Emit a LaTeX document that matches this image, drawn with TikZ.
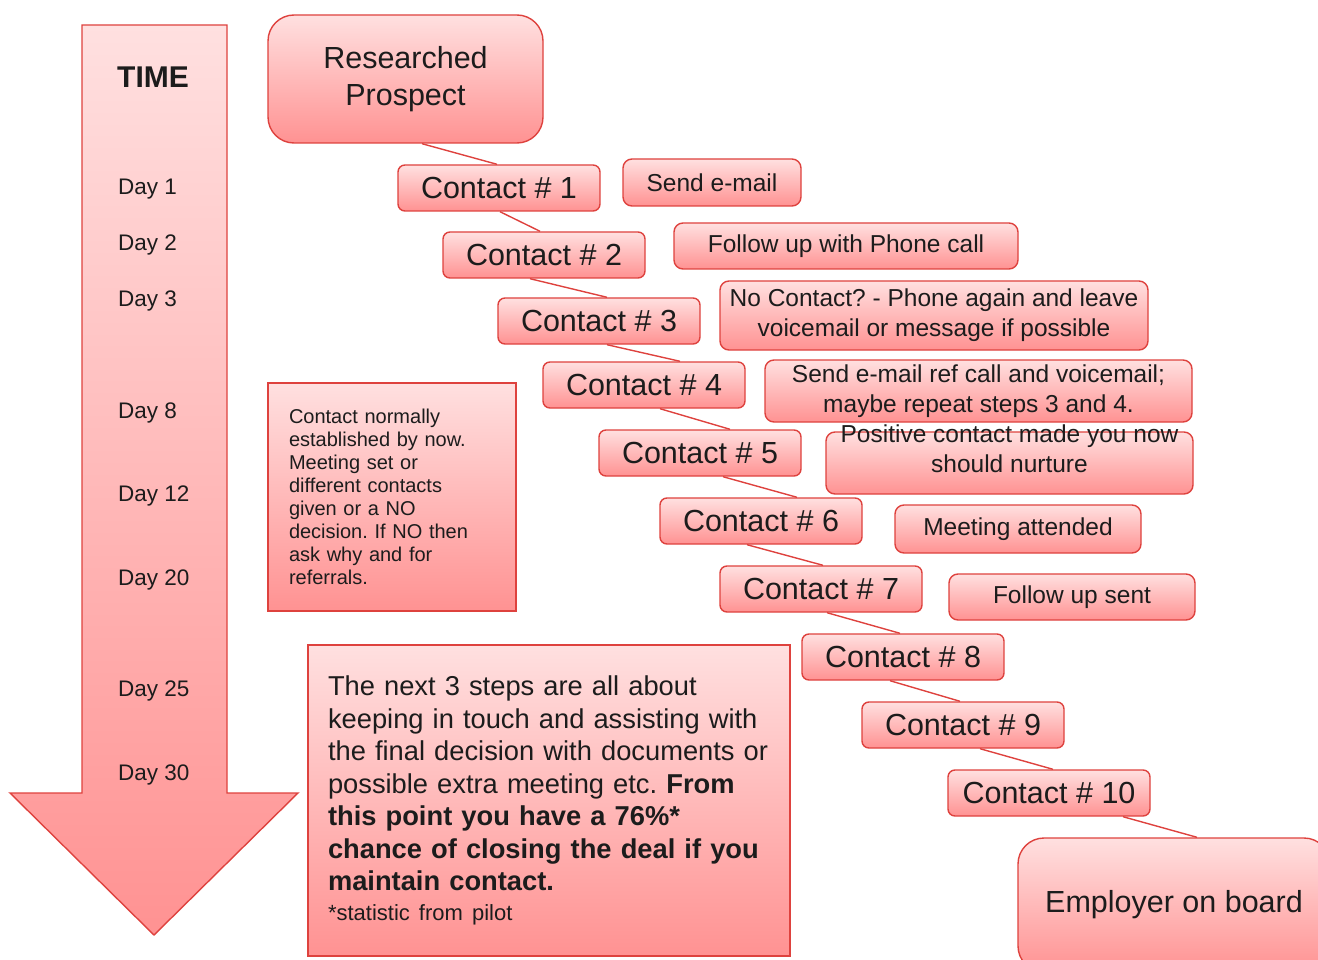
\documentclass[tikz,border=0pt]{standalone}
\usepackage{fontspec}
\setmainfont{Liberation Sans}
\usetikzlibrary{calc}
\frenchspacing

\definecolor{boxtop}{RGB}{255,224,224}
\definecolor{boxbottom}{RGB}{255,146,146}
\definecolor{boxline}{RGB}{222,66,62}
\definecolor{inktext}{RGB}{28,28,28}

\tikzset{
    pinkfill/.style={draw=boxline, line width=1.4pt, top color=boxtop, bottom color=boxbottom},
    pinkbox/.style={pinkfill, text=inktext, inner sep=0pt, align=center},
    contact/.style={pinkbox, rounded corners=7pt, minimum width=202pt, minimum height=46pt, font=\fontsize{30.5}{37}\selectfont},
    stepnote/.style={pinkbox, rounded corners=9pt, font=\fontsize{24.5}{30}\selectfont},
    bigend/.style={pinkbox, rounded corners=26pt, font=\fontsize{30.5}{37}\selectfont},
    link/.style={draw=boxline, line width=1.4pt},
    daylabel/.style={anchor=west, inner sep=0pt, text=inktext, font=\fontsize{22.5}{27}\selectfont}
}

\begin{document}
\begin{tikzpicture}[x=1pt, y=-1pt]
        \useasboundingbox (0,0) rectangle (1318,960);
        \clip (0,0) rectangle (1318,960);

        % Flecha del tiempo
        \draw[pinkfill] (82,25) -- (227,25) -- (227,793) -- (298,793) -- (154,935)
            -- (10,793) -- (82,793) -- cycle;
        \node[text=inktext, font=\bfseries\fontsize{30}{32}\selectfont] (timelabel) at (153,77) {TIME};
        \foreach \d/\y in {1/189, 2/245, 3/301, 8/413, 12/496, 20/580, 25/691, 30/775} {
            \node[daylabel] (day\d) at (118,\y) {Day \d};
        }

        % Inicio y fin
        \node[bigend, minimum width=275pt, minimum height=128pt] (rp) at (405.5,79) {Researched\\Prospect};
        \node[bigend, minimum width=312pt, minimum height=134pt] (emp) at (1174,905) {Employer on board};

        % Contactos
        \foreach \i/\x/\y in {
            1/499/188,
            2/544/255,
            3/599/321,
            4/644/385,
            5/700/453,
            6/761/521,
            7/821/589,
            8/903/657,
            9/963/725,
            10/1049/793
        } {
            \node[contact] (c\i) at (\x,\y) {Contact \# \i};
        }

        % Enlaces
        \foreach \a/\b/\sa/\sb in {rp/c1/16.5/-2, c1/c2/1/-4, c2/c3/-14/8, c3/c4/8/36,
            c4/c5/16/30, c5/c6/23/36, c6/c7/-14/2, c7/c8/6/-3, c8/c9/-13/-3,
            c9/c10/17/4, c10/emp/74/23} {
            \draw[link] ([xshift=\sa pt]\a.south) -- ([xshift=\sb pt]\b.north);
        }

        % Pasos
        \node[stepnote, minimum width=178pt, minimum height=47pt] (email) at (712,182.5) {Send e-mail};
        \node[stepnote, minimum width=344pt, minimum height=46pt] (phone) at (846,246) {Follow up with Phone call};
        \node[stepnote, minimum width=428pt, minimum height=69pt] (again) at (934,315.5)
            {No Contact? - Phone again and leave\\voicemail or message if possible};
        \node[stepnote, minimum width=427pt, minimum height=62pt] (repeat) at (978.5,391)
            {Send e-mail ref call and voicemail;\\maybe repeat steps 3 and 4.};
        \node[stepnote, minimum width=367pt, minimum height=62pt] (nurture) at (1009.5,463) {};
        \node[text=inktext, align=center, font=\fontsize{24.5}{30}\selectfont] (nurturetext)
            at ($(nurture.center)+(0,-14)$) {Positive contact made you now\\should nurture};
        \node[stepnote, minimum width=246pt, minimum height=48pt] (meeting) at (1018,529) {Meeting attended};
        \node[stepnote, minimum width=246pt, minimum height=46pt] (sent) at (1072,597) {Follow up sent};

        % Notas
        \node[pinkbox, minimum height=228pt, text width=206pt, inner xsep=21pt, align=left,
            font=\fontsize{20}{23.1}\selectfont] (note) at (392,497)
            {Contact normally\\established by now.\\Meeting set or\\different contacts\\given or a NO\\decision. If NO then\\ask why and for\\referrals.};
        \node[pinkbox, minimum height=311pt, text width=442pt, inner xsep=20pt, align=left,
            font=\fontsize{27.3}{32.5}\selectfont] (pitch) at (549,800.5)
            {The next 3 steps are all about\\keeping in touch and assisting with\\the final decision with documents or\\possible extra meeting etc. \textbf{From}\\\textbf{this point you have a 76\%*}\\\textbf{chance of closing the deal if you}\\\textbf{maintain contact.}\\[-2.5pt]{\fontsize{22}{26}\selectfont *statistic from pilot}};
\end{tikzpicture}
\end{document}
